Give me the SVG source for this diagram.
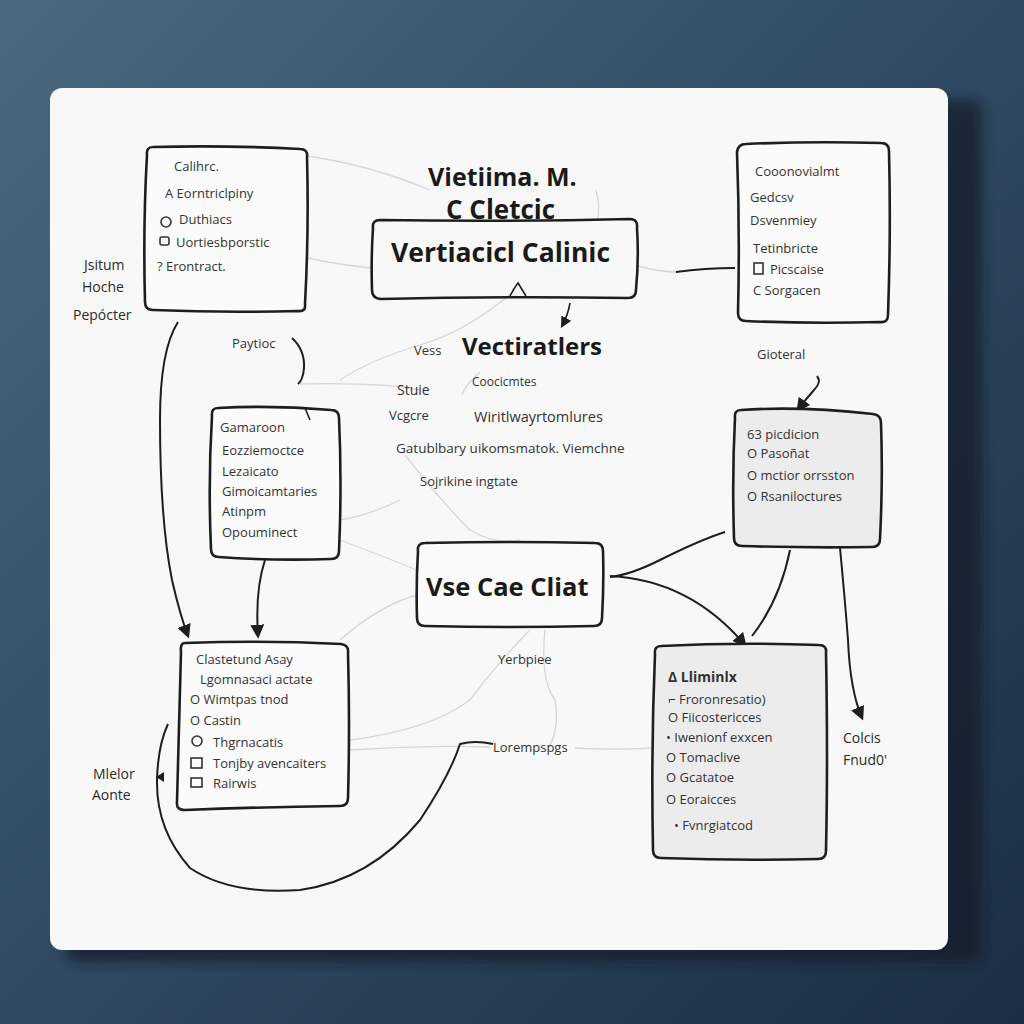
<svg xmlns="http://www.w3.org/2000/svg" width="1024" height="1024" viewBox="0 0 1024 1024">
<defs>
<linearGradient id="bg" x1="0" y1="0" x2="1" y2="1">
<stop offset="0" stop-color="#4a6a80"/>
<stop offset="0.5" stop-color="#2f4a62"/>
<stop offset="1" stop-color="#1c2e41"/>
</linearGradient>
<filter id="blur" x="-10%" y="-10%" width="120%" height="120%"><feGaussianBlur stdDeviation="6"/></filter>
<marker id="ah" viewBox="0 0 10 10" refX="8" refY="5" markerWidth="7" markerHeight="7" orient="auto-start-reverse"><path d="M0,0 L10,5 L0,10 Z" fill="#1e1e1e"/></marker>
<style>
.box{fill:#fbfbfb;stroke:#1e1e1e;stroke-width:2.6;stroke-linejoin:round}
.boxg{fill:#ececec;stroke:#1e1e1e;stroke-width:2.6;stroke-linejoin:round}
.t{font-family:"Open Sans","Liberation Sans",sans-serif;font-size:13px;fill:#333}
.tl{font-family:"Open Sans","Liberation Sans",sans-serif;font-size:14px;fill:#2a2a2a}
.h{font-family:"Open Sans","Liberation Sans",sans-serif;font-weight:bold;font-size:25px;fill:#1a1a1a}
.c{fill:none;stroke:#1e1e1e;stroke-width:2}
.g{fill:none;stroke:#d6d6d6;stroke-width:1.3}
.ic{fill:none;stroke:#333;stroke-width:1.6}
</style>
</defs>
<rect width="1024" height="1024" fill="url(#bg)"/>
<rect x="66" y="100" width="916" height="862" rx="12" fill="#121e2b" opacity="0.75" filter="url(#blur)"/>
<rect x="50" y="88" width="898" height="862" rx="12" fill="#f8f8f8"/>

<g id="connectors">
<path class="g" d="M307,156 Q370,165 430,190"/>
<path class="g" d="M307,258 Q340,265 372,268"/>
<path class="g" d="M638,266 Q660,272 676,272"/>
<path class="g" d="M596,190 Q600,205 598,220"/>
<path class="g" d="M515,290 Q470,330 420,345 Q370,360 340,380"/>
<path class="g" d="M300,384 Q380,382 420,390"/>
<path class="g" d="M480,372 Q465,385 462,395"/>
<path class="g" d="M405,455 Q440,500 470,530 Q495,545 520,540"/>
<path class="g" d="M340,540 Q380,555 417,570"/>
<path class="g" d="M340,520 Q370,515 400,500"/>
<path class="g" d="M417,595 Q380,605 340,640"/>
<path class="g" d="M530,630 Q500,660 470,700 Q430,730 350,740"/>
<path class="g" d="M545,630 Q540,680 555,700 Q560,730 548,748"/>
<path class="g" d="M350,750 Q420,745 490,747"/>
<path class="g" d="M575,748 Q620,750 652,748"/>
<path class="c" d="M178,322 Q160,350 160,420 Q160,520 172,580 Q180,615 188,636" marker-end="url(#ah)"/>
<path class="c" d="M292,338 Q305,350 304,368 Q303,380 298,384"/>
<path class="c" d="M265,560 Q255,590 258,636" marker-end="url(#ah)"/>
<path class="c" d="M510,296 Q514,288 518,283 L526,296" style="stroke-width:1.6"/>
<path class="c" d="M570,303 Q568,315 562,326" marker-end="url(#ah)" style="stroke-width:1.6"/>
<path class="c" d="M676,272 Q705,268 735,268"/>
<path class="c" d="M817,376 Q822,382 814,390 Q805,400 798,410" marker-end="url(#ah)"/>
<path class="c" d="M610,577 Q630,575 660,560 Q700,540 725,532"/>
<path class="c" d="M610,576 Q690,580 745,645" marker-end="url(#ah)"/>
<path class="c" d="M790,550 Q780,600 752,636"/>
<path class="c" d="M840,548 Q845,600 848,640 Q850,690 862,718" marker-end="url(#ah)"/>
<path class="c" d="M168,724 Q158,745 157,780 Q156,830 190,868 Q230,895 300,890 Q370,880 420,820 Q450,775 460,744 Q475,740 493,744"/>
<path d="M156,777 L164,772 L164,782 Z" fill="#1e1e1e"/>
</g>

<g id="n1">
<path class="box" d="M153,147 Q226,145 300,149 Q308,149 307,157 Q309,230 305,304 Q306,312 298,311 Q225,313 153,310 Q145,310 145,302 Q143,225 147,155 Q146,147 153,147 Z"/>
<text class="t" x="174" y="171">Calihrc.</text>
<text class="t" x="165" y="198">A Eorntriclpiny</text>
<circle class="ic" cx="166" cy="222" r="5"/>
<text class="t" x="179" y="224">Duthiacs</text>
<rect class="ic" x="160" y="237" width="9" height="8" rx="2"/>
<text class="t" x="176" y="247">Uortiesbporstic</text>
<text class="t" x="157" y="271">? Erontract.</text>
</g>
<g id="n1-labels">
<text class="tl" x="84" y="270">Jsitum</text>
<text class="tl" x="82" y="292">Hoche</text>
<text class="tl" x="73" y="320">Pepócter</text>
</g>

<g id="n2">
<text class="h" x="428" y="186">Vietiima.  M.</text>
<text class="h" x="446" y="219" style="font-size:26px">C Cletcic</text>
<path class="box" d="M380,220 Q505,222 630,219 Q638,219 637,228 Q639,258 636,290 Q636,298 628,298 Q505,296 380,299 Q372,298 372,290 Q371,258 373,228 Q372,220 380,220 Z" style="fill:none"/>
<text class="h" x="391" y="262" style="font-size:26.5px">Vertiacicl Calinic</text>
</g>

<g id="n3">
<path class="box" d="M746,144 Q812,141 881,143 Q889,143 889,151 Q891,232 888,315 Q888,323 880,322 Q812,324 746,321 Q738,321 738,313 Q740,232 737,152 Q738,144 746,144 Z"/>
<text class="t" x="755" y="176">Cooonovialmt</text>
<text class="t" x="750" y="202">Gedcsv</text>
<text class="t" x="750" y="225">Dsvenmiey</text>
<text class="t" x="753" y="253">Tetinbricte</text>
<rect class="ic" x="754" y="263" width="9" height="11"/>
<text class="t" x="770" y="274">Picscaise</text>
<text class="t" x="753" y="295">C Sorgacen</text>
</g>

<g id="n4">
<text class="t" x="414" y="355">Vess</text>
<text class="h" x="462" y="355" style="font-size:24px">Vectiratlers</text>
<text class="t" x="397" y="395" style="font-size:14px">Stuie</text>
<text class="t" x="472" y="386" style="font-size:12px">Coocicmtes</text>
<text class="t" x="389" y="420">Vcgcre</text>
<text class="t" x="474" y="422" style="font-size:14.5px">Wiritlwayrtomlures</text>
<text class="t" x="396" y="453" style="font-size:13.5px">Gatublbary uikomsmatok.  Viemchne</text>
<text class="t" x="420" y="486">Sojrikine ingtate</text>
</g>

<g id="n5">
<text class="t" x="232" y="348">Paytioc</text>
</g>

<g id="n6">
<path class="box" d="M218,408 Q274,405 331,410 Q339,410 339,418 Q342,484 339,551 Q339,559 331,559 Q274,561 219,557 Q211,557 211,549 Q208,482 212,416 Q211,408 218,408 Z"/>
<path class="c" d="M305,408 L310,420" style="stroke-width:1.6"/>
<text class="t" x="220" y="432">Gamaroon</text>
<text class="t" x="222" y="455">Eozziemoctce</text>
<text class="t" x="222" y="476">Lezaicato</text>
<text class="t" x="222" y="496">Gimoicamtaries</text>
<text class="t" x="222" y="516">Atinpm</text>
<text class="t" x="222" y="537">Opouminect</text>
</g>

<g id="n7">
<text class="t" x="757" y="359">Gioteral</text>
<path class="boxg" d="M741,410 Q800,406 873,414 Q881,415 881,423 Q883,480 880,539 Q880,547 872,547 Q808,548 742,546 Q734,546 734,538 Q732,476 735,418 Q734,410 741,410 Z"/>
<text class="t" x="747" y="439">63 picdicion</text>
<text class="t" x="747" y="458">O Pasoñat</text>
<text class="t" x="747" y="480">O mctior orrsston</text>
<text class="t" x="747" y="501">O Rsaniloctures</text>
</g>

<g id="n8">
<path class="box" d="M425,543 Q510,541 595,543 Q603,543 603,551 Q604,584 602,618 Q602,626 594,626 Q510,628 425,626 Q417,626 417,618 Q416,584 418,551 Q417,543 425,543 Z"/>
<text class="h" x="426" y="596" style="font-size:25.5px">Vse Cae Cliat</text>
</g>

<g id="n9">
<path class="box" d="M185,643 Q265,640 341,644 Q349,645 348,653 Q350,725 348,798 Q348,806 340,806 Q262,807 185,810 Q176,810 177,802 Q179,725 181,652 Q180,643 185,643 Z"/>
<text class="t" x="196" y="664">Clastetund Asay</text>
<text class="t" x="200" y="684">Lgomnasaci actate</text>
<text class="t" x="190" y="704">O Wimtpas tnod</text>
<text class="t" x="190" y="725">O Castin</text>
<circle class="ic" cx="197" cy="741" r="5"/>
<text class="t" x="213" y="747">Thgrnacatis</text>
<rect class="ic" x="191" y="758" width="11" height="10"/>
<text class="t" x="213" y="768">Tonjby avencaiters</text>
<rect class="ic" x="191" y="778" width="11" height="9"/>
<text class="t" x="213" y="788">Rairwis</text>
</g>
<g id="n9-labels">
<text class="tl" x="93" y="779">Mlelor</text>
<text class="tl" x="92" y="800">Aonte</text>
</g>

<g id="n10">
<path class="boxg" d="M661,646 Q740,642 819,645 Q827,645 826,653 Q828,760 826,851 Q826,859 818,859 Q740,861 661,858 Q653,858 653,850 Q651,750 655,654 Q654,646 661,646 Z"/>
<text class="t" x="668" y="682" style="font-weight:bold;font-size:14px">Δ Lliminlx</text>
<text class="t" x="668" y="704">⌐ Froronresatio)</text>
<text class="t" x="668" y="722">O  Fiicostericces</text>
<text class="t" x="666" y="742">• Iwenionf exxcen</text>
<text class="t" x="666" y="762">O Tomaclive</text>
<text class="t" x="666" y="782">O Gcatatoe</text>
<text class="t" x="666" y="804">O Eoraicces</text>
<text class="t" x="674" y="830">• Fvnrgiatcod</text>
</g>
<g id="n10-labels">
<text class="tl" x="843" y="743">Colcis</text>
<text class="tl" x="843" y="765">Fnud0'</text>
</g>

<g id="free-labels">
<text class="t" x="498" y="664">Yerbpiee</text>
<text class="t" x="493" y="752">Lorempspgs</text>
</g>
</svg>
